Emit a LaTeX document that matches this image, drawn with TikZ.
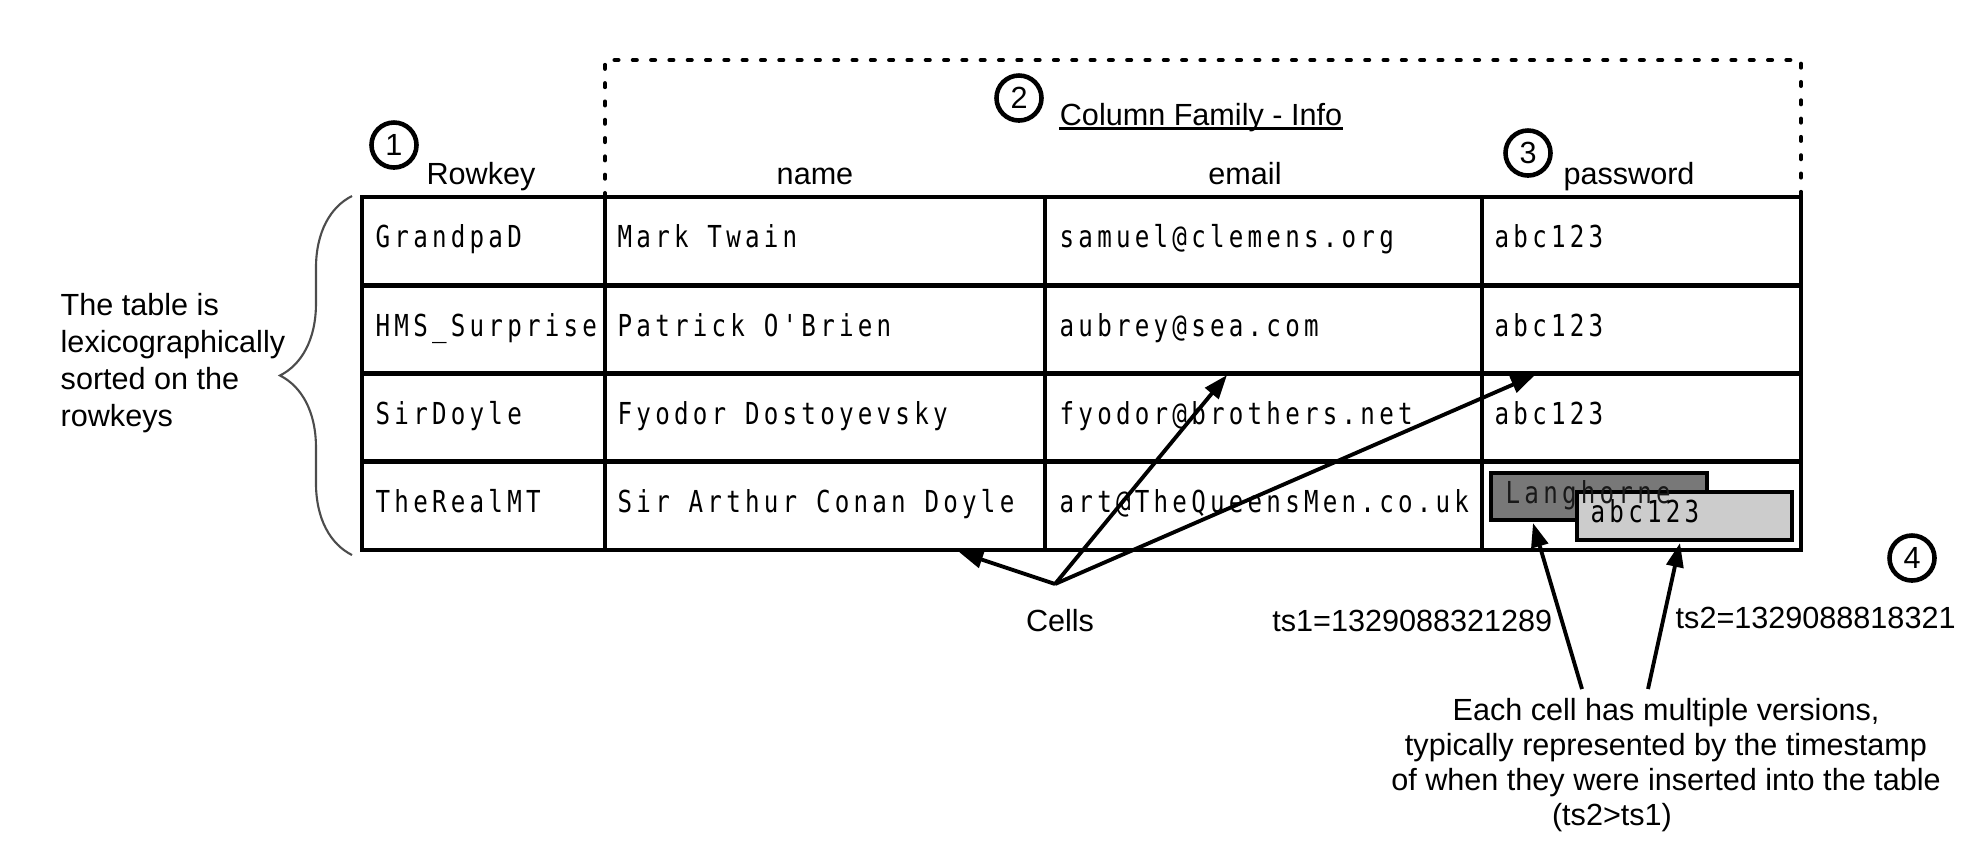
\documentclass[tikz,border=0pt]{standalone}
\usepackage{fontspec}
\setmainfont{Liberation Sans}
\newfontfamily\cellfont[FakeStretch=0.8,LetterSpace=14]{DejaVu Sans Mono}
\usetikzlibrary{arrows.meta,decorations.pathreplacing}
\definecolor{vdark}{HTML}{787878}
\definecolor{vlight}{HTML}{CCCCCC}

\begin{document}
\begin{tikzpicture}[x=0.01cm,y=-0.01cm,
                    num node/.style={circle,draw,line width=1.3pt,minimum size=0.45cm,inner sep=0pt,font=\fontsize{8.7}{10}\selectfont},
                    head node/.style={anchor=base,inner sep=0pt,font=\fontsize{8.7}{10}\selectfont},
                    cell node/.style={anchor=base west,inner sep=0pt,font=\fontsize{8.6}{9}\cellfont},
                    ver node/.style={rectangle,draw,line width=1.1pt,inner sep=0pt},
                    note node/.style={inner sep=0pt,font=\fontsize{8.7}{10}\selectfont},
                    arrow/.style={-{Triangle[length=0.24cm,width=0.17cm]},line width=1.1pt}]
  \useasboundingbox (0,0) rectangle (1972,856);

  \draw[line width=1.15pt,line cap=round,dash pattern=on 0.04cm off 0.143cm]
    (605,197) -- (605,60) -- (1801,60) -- (1801,197);

  \foreach \y in {197,285.5,373.5,461.5,550}
    \draw[line width=1.2pt,line cap=rect] (362,\y) -- (1801,\y);
  \foreach \x in {362,605,1045,1482,1801}
    \draw[line width=1.2pt,line cap=rect] (\x,197) -- (\x,550);

  \node[num node] (n1) at (394,145) {1};
  \node[num node] (n2) at (1019,98) {2};
  \node[num node] (n3) at (1528,153) {3};
  \node[num node] (n4) at (1912,558) {4};

  \node[head node] (rk) at (481,184) {Rowkey};
  \node[head node] (nm) at (815,184) {name};
  \node[head node] (em) at (1245,184) {email};
  \node[head node] (pw) at (1629,184) {password};
  \node[head node] (cf) at (1201,125) {Column Family - Info};
  \draw[line width=0.9pt] ([yshift=-0.035cm]cf.base west) -- ([yshift=-0.035cm]cf.base east);

  \node[cell node] (k1) at (375,247.5) {GrandpaD};
  \node[cell node] (k2) at (375,336) {HMS\_Surprise};
  \node[cell node] (k3) at (375,424) {SirDoyle};
  \node[cell node] (k4) at (375,512) {TheRealMT};
  \node[cell node] (a1) at (617,247.5) {Mark Twain};
  \node[cell node] (a2) at (617,336) {Patrick O'Brien};
  \node[cell node] (a3) at (617,424) {Fyodor Dostoyevsky};
  \node[cell node] (a4) at (617,512) {Sir Arthur Conan Doyle};
  \node[cell node] (e1) at (1059,247.5) {samuel@clemens.org};
  \node[cell node] (e2) at (1059,336) {aubrey@sea.com};
  \node[cell node] (e3) at (1059,424) {fyodor@brothers.net};
  \node[cell node] (e4) at (1059,512) {art@TheQueensMen.co.uk};
  \node[cell node] (p1) at (1494,247.5) {abc123};
  \node[cell node] (p2) at (1494,336) {abc123};
  \node[cell node] (p3) at (1494,424) {abc123};

  \node[ver node,fill=vdark,minimum width=2.16cm,minimum height=0.47cm] (v1) at (1599,496.5) {};
  \node[ver node,fill=vlight,minimum width=2.15cm,minimum height=0.48cm] (v2) at (1684.5,516) {};
  \node[cell node,text=black!90] (l1) at (1505,503) {Langhorne};
  \node[cell node] (l2) at (1590,522) {abc123};

  \draw[decorate,decoration={brace,amplitude=0.72cm},line width=0.6pt,draw=black!70]
    (352,555) -- (352,196);
  \node[note node,anchor=west,align=left,font=\fontsize{8.7}{10.5}\selectfont] (sorted) at (60,363)
    {The table is\\lexicographically\\sorted on the\\rowkeys};

  \node[note node,anchor=base] (cells) at (1060,631) {Cells};
  \node[note node,anchor=base east] (ts1) at (1553,631) {ts1=1329088321289};
  \node[note node,anchor=base west] (ts2) at (1675,628) {ts2=1329088818321};
  \node[note node,align=center,font=\fontsize{8.7}{10}\selectfont] (versions) at (1666,765)
    {Each cell has multiple versions,\\typically represented by the timestamp\\of when they were inserted into the table\\(ts2>ts1)\hspace*{1.08cm}};

  \coordinate (fork) at (1055,584);
  \coordinate (c1) at (959,552);
  \coordinate (c2) at (1227,375);
  \coordinate (c3) at (1535,375);
  \coordinate (s1) at (1582,689);
  \coordinate (s2) at (1648,689);
  \coordinate (t1) at (1533,523);
  \coordinate (t2) at (1680,543);

  \path[arrow]
    (fork) edge (c1)
           edge (c2)
           edge (c3)
    (s1) edge (t1)
    (s2) edge (t2);
\end{tikzpicture}
\end{document}
